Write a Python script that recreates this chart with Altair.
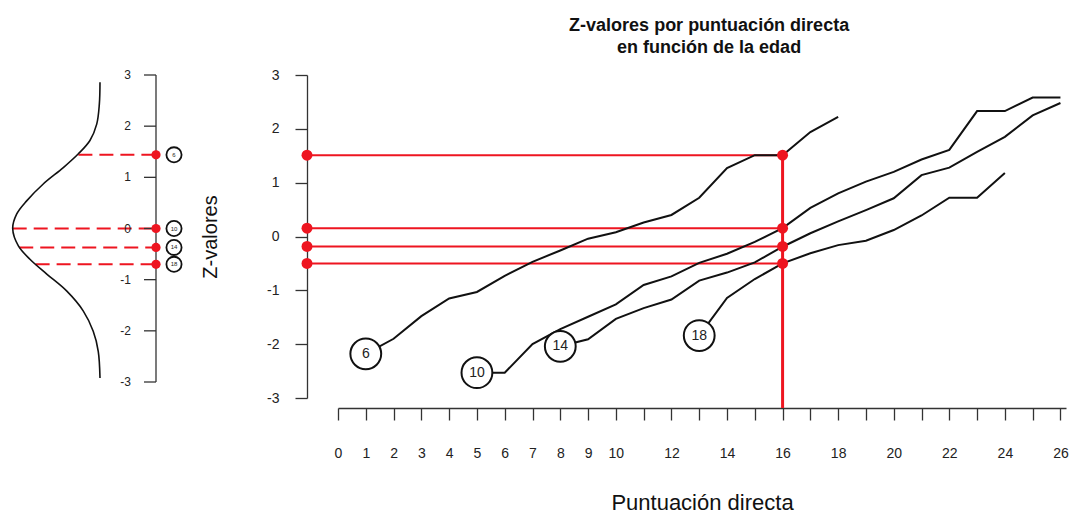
import altair as alt
import pandas as pd

# ---------------- data ----------------
curve_names = ["6", "10", "14", "18"]

c6_x = list(range(1, 19))
c6_z = [-2.18, -1.90, -1.48, -1.15, -1.03, -0.73, -0.47, -0.26, -0.04, 0.08,
        0.26, 0.40, 0.72, 1.27, 1.51, 1.51, 1.94, 2.22]

c10_x = list(range(5, 27))
c10_z = [-2.53, -2.53, -2.00, -1.72, -1.49, -1.26, -0.90, -0.74, -0.49, -0.32,
         -0.10, 0.155, 0.53, 0.80, 1.02, 1.20, 1.43, 1.61, 2.33, 2.33, 2.58, 2.58]

c14_x = list(range(8, 27))
c14_z = [-2.04, -1.91, -1.53, -1.33, -1.17, -0.82, -0.67, -0.48, -0.19, 0.06,
         0.28, 0.49, 0.71, 1.14, 1.28, 1.57, 1.85, 2.25, 2.48]

c18_x = list(range(13, 25))
c18_z = [-1.84, -1.14, -0.79, -0.50, -0.31, -0.16, -0.08, 0.12, 0.39, 0.72,
         0.72, 1.18]

target_score = 16
main_levels = [1.51, 0.155, -0.185, -0.50]

left_levels = [1.44, 0.0, -0.37, -0.70]
left_dash_start = [0.099, 0.400, 0.370, 0.295]

norm_z = [2.86, 2.43, 2.04, 1.72, 1.46, 1.19, 0.87, 0.54, 0.28, 0.0,
          -0.34, -0.60, -0.89, -1.22, -1.61, -2.01, -2.40, -2.92]
norm_d = [0.0, 0.003, 0.015, 0.046, 0.099, 0.168, 0.260, 0.336, 0.382, 0.400,
          0.374, 0.321, 0.244, 0.153, 0.077, 0.031, 0.008, 0.0]

z_ticks = [-3, -2, -1, 0, 1, 2, 3]
z_tick_labels = ["-3", "-2", "-1", "0", "1", "2", "3"]
x_ticks = list(range(0, 27))
x_tick_labels = [0, 1, 2, 3, 4, 5, 6, 7, 8, 9, 10, 12, 14, 16, 18, 20, 22, 24, 26]

title_lines = ["Z-valores por puntuación directa", "en función de la edad"]

# ---------------- styling / layout ----------------
RED = "#EE1520"
INK = "#111111"
FONT = "Liberation Sans"
WL, HL = 148, 307
WM, HM = 728, 323
Y_OFF = 31
X_OFF = 10

# ---------------- left panel ----------------
lx = alt.Scale(domain=[-0.2566, 0.4215], reverse=True)
ly = alt.Scale(domain=[-3, 3])

norm_df = pd.DataFrame({"d": norm_d, "z": norm_z, "i": list(range(len(norm_z)))})
left_df = pd.DataFrame({"z": left_levels, "d": left_dash_start, "lab": curve_names})
ltick_df = pd.DataFrame({"z": z_ticks, "lab": z_tick_labels})
ldom_df = pd.DataFrame({"lo": [min(z_ticks)], "hi": [max(z_ticks)]})

LX = alt.X("d:Q", scale=lx, axis=None)
LY = alt.Y("z:Q", scale=ly, axis=None)

l_curve = alt.Chart(norm_df).mark_line(color=INK, strokeWidth=1.6, interpolate="catmull-rom").encode(
    x=LX, y=LY, order="i:Q")
l_dash = alt.Chart(left_df).mark_rule(color=RED, strokeWidth=2, strokeDash=[14, 7]).encode(
    x=LX, x2=alt.value(WL), y=LY)
l_dom = alt.Chart(ldom_df).mark_rule(color="#333333", strokeWidth=1.3).encode(
    x=alt.value(WL), y=alt.Y("lo:Q", scale=ly, axis=None), y2="hi:Q")
l_ticks = alt.Chart(ltick_df).mark_rule(color="#333333", strokeWidth=1.3).encode(
    x=alt.value(WL - 12), x2=alt.value(WL), y=LY)
l_tlab = alt.Chart(ltick_df).mark_text(align="right", baseline="middle", fontSize=12, color="#222222").encode(
    x=alt.value(WL - 25), y=LY, text="lab:N")
l_dots = alt.Chart(left_df).mark_circle(size=85, color=RED, opacity=1).encode(
    x=alt.value(WL), y=LY)
l_circ = alt.Chart(left_df).mark_point(shape="circle", size=230, filled=True, fill="white",
                                      stroke=INK, strokeWidth=1.8, opacity=1).encode(
    x=alt.value(WL + 18), y=LY)
l_clab = alt.Chart(left_df).mark_text(fontSize=6, color="#222222").encode(
    x=alt.value(WL + 18), y=LY, text="lab:N")

left = alt.layer(l_dash, l_curve, l_dom, l_ticks, l_tlab, l_dots, l_circ, l_clab).properties(
    width=WL, height=HL)

# ---------------- main panel ----------------
rows = []
for name, xs, zs in [("6", c6_x, c6_z), ("10", c10_x, c10_z), ("14", c14_x, c14_z), ("18", c18_x, c18_z)]:
    for v, z in zip(xs, zs):
        rows.append({"grp": name, "v": v, "z": z})
curves_df = pd.DataFrame(rows)

start_df = pd.DataFrame({
    "grp": curve_names,
    "v": [c6_x[0], c10_x[0], c14_x[0], c18_x[0]],
    "z": [c6_z[0], c10_z[0], c14_z[0], c18_z[0]],
})
lev_df = pd.DataFrame({"v": [target_score] * len(main_levels), "z": main_levels})
vert_df = pd.DataFrame({"v": [target_score], "z": [max(main_levels)]})

mx = alt.Scale(domain=[0, 26.2])
my = alt.Scale(domain=[-3, 3])

lab_js = "[" + ",".join(str(v) for v in x_tick_labels) + "]"
x_axis = alt.Axis(values=x_ticks, labelExpr=f"indexof({lab_js}, datum.value) >= 0 ? '' + datum.value : ''",
                  offset=X_OFF, tickSize=12, labelPadding=26, labelFontSize=14, labelColor="#222222",
                  domainColor="#333333", tickColor="#333333", domainWidth=1.3, tickWidth=1.3,
                  labelFlush=False, labelOverlap=False, grid=False,
                  title="Puntuación directa", titleFontSize=22, titleFontWeight="normal",
                  titleColor="#111111", titlePadding=32)
y_axis = alt.Axis(values=z_ticks, labelExpr="datum.value < 0 ? '-' + (-datum.value) : '' + datum.value",
                  offset=Y_OFF, tickSize=12, labelPadding=16, labelFontSize=14, labelColor="#222222",
                  domainColor="#333333", tickColor="#333333", domainWidth=1.3, tickWidth=1.3,
                  labelFlush=False, labelOverlap=False, grid=False,
                  title="Z-valores", titleFontSize=20, titleFontWeight="normal",
                  titleColor="#111111", titlePadding=46)

MX = alt.X("v:Q", scale=mx, axis=x_axis)
MY = alt.Y("z:Q", scale=my, axis=y_axis)

m_hlines = alt.Chart(lev_df).mark_rule(color=RED, strokeWidth=2).encode(
    x=MX, x2=alt.value(-Y_OFF), y=MY)
m_curves = alt.Chart(curves_df).mark_line(color=INK, strokeWidth=2).encode(
    x=MX, y=MY, detail="grp:N", order="v:Q")
m_vline = alt.Chart(vert_df).mark_rule(color=RED, strokeWidth=3).encode(
    x=MX, y=MY, y2=alt.value(HM + X_OFF))
m_dots_axis = alt.Chart(lev_df).mark_circle(size=120, color=RED, opacity=1).encode(
    x=alt.value(-Y_OFF), y=MY)
m_dots = alt.Chart(lev_df).mark_circle(size=120, color=RED, opacity=1).encode(x=MX, y=MY)
m_circ = alt.Chart(start_df).mark_point(shape="circle", size=950, filled=True, fill="white",
                                        stroke=INK, strokeWidth=2, opacity=1).encode(x=MX, y=MY)
m_clab = alt.Chart(start_df).mark_text(fontSize=14, color="#222222").encode(x=MX, y=MY, text="grp:N")

main = alt.layer(m_hlines, m_curves, m_vline, m_dots_axis, m_dots, m_circ, m_clab).properties(
    width=WM, height=HM)

chart = alt.hconcat(left, main, spacing=14).properties(
    padding={"left": 0, "top": 9, "right": 0, "bottom": 0},
    title=alt.TitleParams(title_lines, fontSize=18, fontWeight="bold", anchor="middle",
                          dx=171, offset=11, lineHeight=22, color="#111111"),
).configure(font=FONT).configure_view(strokeWidth=0, stroke="transparent")

chart.save("out.html", embed_options={"renderer": "svg", "actions": False})
